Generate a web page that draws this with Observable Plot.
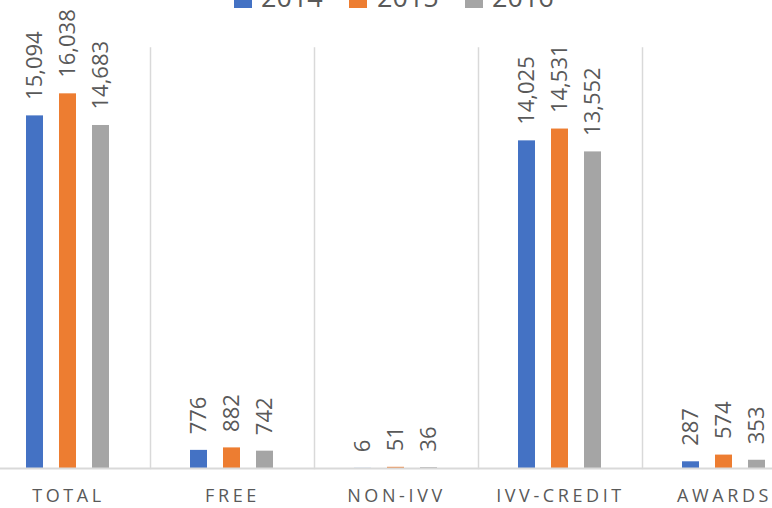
<!DOCTYPE html>
<html>
<head>
<meta charset="utf-8">
<script src="https://cdn.jsdelivr.net/npm/d3@7"></script>
<script src="https://cdn.jsdelivr.net/npm/@observablehq/plot@0.6"></script>
<style>
  html, body { margin: 0; padding: 0; background: #fff; }
  #wrap { position: relative; width: 772px; height: 508px; overflow: hidden; font-family: "Open Sans", sans-serif; }
  #legend { position: absolute; top: 0; left: 0; width: 772px; height: 40px; }
  .sw { position: absolute; width: 18px; height: 18px; top: -10px; }
  .lt { position: absolute; font-size: 27px; color: #595959; line-height: 1; top: -17px; }
  #chart { position: absolute; top: 0; left: -16px; width: 824px; height: 508px; }
  #chart svg { max-width: none !important; width: 824px; height: 508px; }
</style>
</head>
<body>
<div id="wrap">
  <div id="chart"></div>
  <div id="legend"></div>
</div>
<script>
const categories = ["TOTAL", "FREE", "NON-IVV", "IVV-CREDIT", "AWARDS"];
const years = ["2014", "2015", "2016"];
const colors = ["#4472C4", "#ED7D31", "#A5A5A5"];
const values2014 = [15094, 776, 6, 14025, 287];
const values2015 = [16038, 882, 51, 14531, 574];
const values2016 = [14683, 742, 36, 13552, 353];

const series = [values2014, values2015, values2016];
const data = [];
categories.forEach((c, i) => {
  years.forEach((y, j) => data.push({cat: c, year: y, value: series[j][i]}));
});

const fmt = d3.format(",");

const plot = Plot.plot({
  width: 824,
  height: 508,
  marginTop: 47.5,
  marginBottom: 40,
  marginLeft: 0,
  marginRight: 0,
  style: {fontFamily: "Open Sans, sans-serif", background: "transparent", maxWidth: "none"},
  fx: {domain: categories, padding: 0, label: null},
  x: {domain: years, paddingInner: 0.476, paddingOuter: 1.18, axis: null},
  y: {domain: [0, 18000], axis: null},
  color: {domain: years, range: colors},
  marks: [
    Plot.frame({anchor: "left", stroke: "#d9d9d9", strokeWidth: 1.5}),
    Plot.barY(data, {fx: "cat", x: "year", y: "value", fill: "year"}),
    Plot.ruleY([0], {stroke: "#d9d9d9", strokeWidth: 2}),
    Plot.text(data, {
      fx: "cat", x: "year", y: "value",
      text: d => fmt(d.value),
      rotate: -90, textAnchor: "start", dy: -16,
      fontSize: 22, fill: "#595959"
    }),
    Plot.axisFx({anchor: "bottom", tickSize: 0, tickPadding: 21, fontSize: 18, fill: "#595959", label: null})
  ]
});

d3.select(plot).selectAll('[aria-label="fx-axis tick label"] text').attr("letter-spacing", "3.6px");
document.getElementById("chart").appendChild(plot);

// legend
const legend = d3.select("#legend");
const swX = [234, 349, 465];
const txX = [261, 377, 492];
years.forEach((y, i) => {
  legend.append("div").attr("class", "sw").style("left", swX[i] + "px").style("background", colors[i]);
  legend.append("div").attr("class", "lt").style("left", txX[i] + "px").text(y);
});
</script>
</body>
</html>
